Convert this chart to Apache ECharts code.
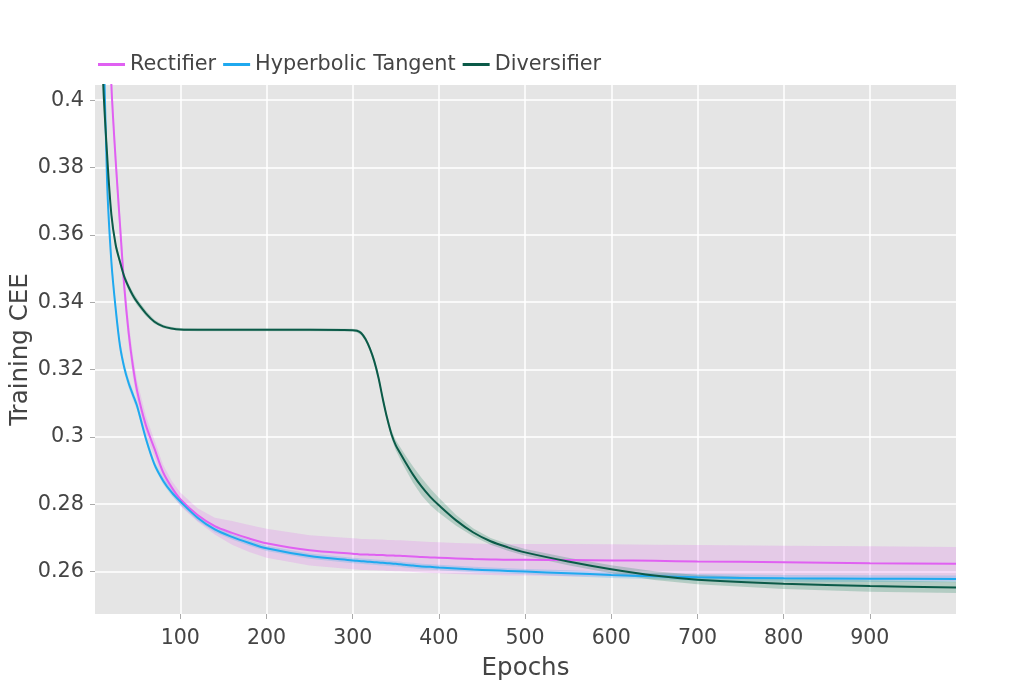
<!DOCTYPE html>
<html>
<head>
<meta charset="utf-8">
<script src="https://cdn.jsdelivr.net/npm/echarts@6/dist/echarts.min.js"></script>
<style>
html,body{margin:0;padding:0;background:#fff;}
#chart{width:1024px;height:683px;}
</style>
</head>
<body>
<div id="chart"></div>
<script>
// ---- data ----
const epochs = [1,5,10,15,20,25,30,35,40,45,50,60,70,80,90,100,120,140,160,180,200,250,300,305,310,315,320,325,330,335,340,345,350,355,360,370,380,390,400,420,440,460,480,500,550,600,650,700,800,900,1000];

const rectMean = [0.70,0.60,0.51,0.445,0.4045,0.382,0.363,0.3445,0.331,0.321,
  0.3135,0.3035,0.2965,0.2895,0.2850,0.2815,0.2768,0.2735,0.2715,0.2698,
  0.2684,0.2663,0.2653,0.2652,0.2651,0.2651,0.2650,0.2650,0.2649,0.2649,
  0.2648,0.2648,0.2647,0.2647,0.2646,0.2645,0.2643,0.2642,0.2641,0.2639,
  0.2637,0.2636,0.2635,0.2635,0.2634,0.2633,0.2632,0.2630,0.2628,0.2625,
  0.2623];
const rectSd = [0.004,0.004,0.004,0.004,0.004,0.004,0.0038,0.0036,0.0034,0.0032,
  0.003,0.0028,0.0025,0.0022,0.002,0.002,0.002,0.0025,0.0035,0.004,
  0.0043,0.0045,0.0046,0.0046,0.0046,0.0046,0.0046,0.0046,0.0046,0.0046,
  0.0046,0.0046,0.0046,0.0046,0.0046,0.0046,0.0046,0.0046,0.0046,0.0046,
  0.0046,0.0046,0.0047,0.0047,0.0048,0.0048,0.0048,0.0049,0.0049,0.005,
  0.005];

const tanhMean = [0.60,0.50,0.43,0.376,0.352,0.338,0.327,0.3205,0.316,0.3125,
  0.309,0.2995,0.2918,0.287,0.2835,0.2808,0.2760,0.2725,0.2703,0.2685,
  0.2669,0.2646,0.2633,0.2632,0.2631,0.2630,0.2629,0.2628,0.2627,0.2626,
  0.2625,0.2624,0.2623,0.2622,0.2620,0.2618,0.2615,0.2614,0.2612,0.2609,
  0.2606,0.2604,0.2602,0.2600,0.2595,0.2590,0.2586,0.2583,0.2580,0.2579,
  0.2578];
const tanhSd = [0.002,0.002,0.002,0.002,0.002,0.0018,0.0016,0.0015,0.0014,0.0013,
  0.0012,0.0011,0.001,0.001,0.001,0.001,0.0009,0.0008,0.0008,0.0008,
  0.0008,0.0008,0.0008,0.0008,0.0008,0.0008,0.0008,0.0008,0.0008,0.0008,
  0.0008,0.0008,0.0008,0.0008,0.0008,0.0008,0.0008,0.0008,0.0008,0.0008,
  0.0008,0.0008,0.0008,0.0008,0.0009,0.0009,0.0009,0.001,0.001,0.001,
  0.001];

const divMean = [0.62,0.50,0.409,0.384,0.366,0.357,0.352,0.3475,0.3445,0.342,
  0.340,0.3367,0.3342,0.3328,0.3322,0.3319,0.3318,0.3318,0.3318,0.3318,
  0.3318,0.3318,0.3317,0.3315,0.3308,0.3290,0.3262,0.3225,0.3175,0.3112,
  0.3055,0.3008,0.2975,0.2952,0.2930,0.2888,0.2852,0.2822,0.2797,0.2752,
  0.2716,0.2690,0.2672,0.2657,0.2630,0.2607,0.2588,0.2576,0.2564,0.2557,
  0.2553];
const divSd = [0.0015,0.0015,0.0012,0.001,0.001,0.001,0.001,0.001,0.001,0.001,
  0.001,0.0008,0.0006,0.0005,0.0004,0.0004,0.0004,0.0004,0.0004,0.0004,
  0.0004,0.0004,0.0004,0.0005,0.0006,0.0007,0.0008,0.0009,0.001,0.001,
  0.0011,0.0012,0.0015,0.0018,0.002,0.0024,0.0026,0.0025,0.0022,0.0016,
  0.0012,0.001,0.001,0.001,0.0011,0.0012,0.0013,0.0014,0.0016,0.0017,
  0.0017];

const seriesNames = ['Rectifier','Hyperbolic Tangent','Diversifier'];
const xTicks = [100,200,300,400,500,600,700,800,900];
const xTickLabels = ['100','200','300','400','500','600','700','800','900'];
const yTicks = [0.26,0.28,0.30,0.32,0.34,0.36,0.38,0.40];
const yTickLabels = ['0.26','0.28','0.3','0.32','0.34','0.36','0.38','0.4'];

// ---- build ----
const lineColors = ['#E060F2','#1FA9EF','#0B5A48'];
const bandColors = ['rgba(224,96,242,0.2)','rgba(31,169,239,0.22)','rgba(30,130,95,0.25)'];
const means = [rectMean, tanhMean, divMean];
const sds = [rectSd, tanhSd, divSd];
const bandStart = 2; // earlier points all lie above the plot

const series = [];
means.forEach((m, k) => {
  const sd = sds[k];
  series.push({
    name: seriesNames[k] + ' band', type: 'custom', silent: true, clip: true, z: 1,
    data: [[epochs[bandStart], m[bandStart]]],
    renderItem: (params, api) => {
      const idx = epochs.map((_, i) => i).filter(i => i >= bandStart);
      const upper = idx.map(i => api.coord([epochs[i], m[i] + sd[i]]));
      const lower = idx.map(i => api.coord([epochs[i], m[i] - sd[i]])).reverse();
      return {
        type: 'polygon',
        shape: {points: upper.concat(lower)},
        style: {fill: bandColors[k]}
      };
    }
  });
});
means.forEach((m, k) => {
  series.push({
    name: seriesNames[k], type: 'line',
    data: epochs.map((x, i) => [x, m[i]]),
    symbol: 'none', smooth: 0.3,
    itemStyle: {color: lineColors[k]},
    lineStyle: {color: lineColors[k], width: 2}, z: 3
  });
});

const FONT = 'DejaVu Sans';
const chart = echarts.init(document.getElementById('chart'), null, {renderer: 'canvas'});
chart.setOption({
  animation: false,
  backgroundColor: '#ffffff',
  textStyle: {fontFamily: FONT, color: '#444'},
  legend: {
    data: seriesNames,
    left: 93, top: 49,
    itemWidth: 27, itemHeight: 3, itemGap: 7,
    icon: 'rect',
    textStyle: {fontFamily: FONT, fontSize: 20.8, color: '#444'}
  },
  grid: {left: 95, right: 68, top: 85, bottom: 69, show: true, backgroundColor: '#E5E5E5', borderWidth: 0,
    outerBoundsMode: 'none', containLabel: false},
  xAxis: {
    type: 'value', min: 1, max: 1000,
    name: 'Epochs', nameLocation: 'middle', nameGap: 42, nameMoveOverlap: false,
    nameTextStyle: {fontFamily: FONT, fontSize: 24.5, color: '#444'},
    axisLine: {show: false},
    axisTick: {show: true, length: 5, customValues: xTicks, lineStyle: {color: '#aaaaaa'}},
    axisLabel: {customValues: xTicks, fontFamily: FONT, fontSize: 20.5, color: '#444', margin: 14,
      formatter: v => xTickLabels[xTicks.indexOf(Math.round(v))]},
    splitLine: {show: true, lineStyle: {color: '#ffffff', width: 1.5}}
  },
  yAxis: {
    type: 'value', min: 0.2474, max: 0.4045,
    name: 'Training CEE', nameLocation: 'middle', nameGap: 62, nameMoveOverlap: false,
    nameTextStyle: {fontFamily: FONT, fontSize: 24.5, color: '#444'},
    axisLine: {show: false},
    axisTick: {show: true, length: 5, customValues: yTicks, lineStyle: {color: '#aaaaaa'}},
    axisLabel: {customValues: yTicks, fontFamily: FONT, fontSize: 20.8, color: '#444', margin: 11,
      formatter: v => yTickLabels[yTicks.findIndex(t => Math.abs(t - v) < 1e-6)]},
    splitLine: {show: true, lineStyle: {color: '#ffffff', width: 1.5}}
  },
  series: series
});
</script>
</body>
</html>
